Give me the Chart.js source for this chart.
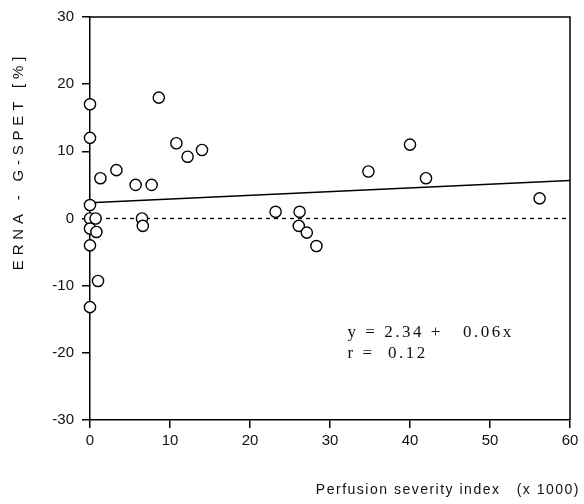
<!DOCTYPE html>
<html>
<head>
<meta charset="utf-8">
<script src="https://cdn.jsdelivr.net/npm/chart.js@4"></script>
<style>
  html, body { margin: 0; padding: 0; background: #fff; }
  #wrap { width: 584px; height: 504px; }
</style>
</head>
<body>
<div id="wrap"><canvas id="chart" width="584" height="504"></canvas></div>
<script>
// perfusion severity index (x 1000)
const severity = [0, 0, 0, 0, 0.7, 0, 0.8, 0, 1.0, 0, 1.3, 3.3, 5.7, 6.5, 6.6, 7.7, 8.6,
  10.8, 12.2, 14.0, 23.2, 26.2, 26.1, 27.1, 28.3, 34.8, 40.0, 42.0, 56.2];
// ERNA - G-SPET difference [%]
const diff = [17, 12, 2, 0, 0, -1.5, -2, -4, -9.3, -13.2, 6, 7.2, 5, 0, -1.1, 5, 18,
  11.2, 9.2, 10.2, 1, 1, -1.1, -2.1, -4.1, 7, 11, 6, 3];
const fitLine = [{ x: 0, y: 2.34 }, { x: 60, y: 5.65 }];
const zeroLine = [{ x: 0, y: 0 }, { x: 60, y: 0 }];
const xTicks = [0, 10, 20, 30, 40, 50, 60];
const yTicks = [-30, -20, -10, 0, 10, 20, 30];
const notes = [
  { x: 32.2, y: -17.0, text: "y = 2.34 +   0.06x" },
  { x: 32.2, y: -20.1, text: "r =  0.12" }
];

const extras = {
  id: "extras",
  afterDraw(chart) {
    const { ctx, chartArea: a, scales } = chart;
    ctx.save();
    ctx.strokeStyle = "#000";
    ctx.lineWidth = 1.5;
    ctx.beginPath();
    ctx.moveTo(a.left, a.top);
    ctx.lineTo(a.right, a.top);
    ctx.lineTo(a.right, a.bottom);
    ctx.stroke();

    ctx.fillStyle = "#111";
    ctx.font = "17px 'Liberation Serif'";
    ctx.letterSpacing = "2.5px";
    ctx.textBaseline = "middle";
    notes.forEach((n) => {
      ctx.fillText(n.text, scales.x.getPixelForValue(n.x), scales.y.getPixelForValue(n.y));
    });

    ctx.font = "14px 'Liberation Sans'";
    ctx.letterSpacing = "1.5px";
    ctx.textAlign = "right";
    ctx.fillText("Perfusion severity index   (x 1000)", 580, 490);

    ctx.font = "15px 'Liberation Sans'";
    ctx.letterSpacing = "4.8px";
    ctx.translate(19, 161);
    ctx.rotate(-Math.PI / 2);
    ctx.textAlign = "center";
    ctx.fillText("ERNA - G-SPET [%]", 0, 0);
    ctx.restore();
  }
};

function axisStyle() {
  return {
    type: "linear",
    grid: { display: true, drawOnChartArea: false, drawTicks: true, tickLength: 8, color: "#000", lineWidth: 1.5 },
    border: { display: true, color: "#000", width: 1.5 },
    ticks: { color: "#111", font: { family: "Liberation Sans", size: 15 }, stepSize: 10 }
  };
}

const xAxis = axisStyle();
xAxis.min = 0;
xAxis.max = 60;
xAxis.ticks.padding = 4;
xAxis.afterBuildTicks = (s) => { s.ticks = xTicks.map((v) => ({ value: v })); };
xAxis.afterFit = (s) => { s.height = 84; };

const yAxis = axisStyle();
yAxis.min = -30;
yAxis.max = 30;
yAxis.ticks.padding = 8;
yAxis.afterBuildTicks = (s) => { s.ticks = yTicks.map((v) => ({ value: v })); };
yAxis.afterFit = (s) => { s.width = 90; };

new Chart(document.getElementById("chart"), {
  type: "scatter",
  data: {
    datasets: [
      {
        label: "patients",
        data: severity.map((x, i) => ({ x, y: diff[i] })),
        backgroundColor: "#fff",
        borderColor: "#000",
        borderWidth: 1.4,
        pointRadius: 5.6,
        clip: false,
        order: 0
      },
      {
        type: "line",
        label: "fit",
        data: fitLine,
        borderColor: "#000",
        borderWidth: 1.5,
        pointRadius: 0,
        order: 1
      },
      {
        type: "line",
        label: "zero",
        data: zeroLine,
        borderColor: "#000",
        borderWidth: 1.3,
        borderDash: [4, 4],
        pointRadius: 0,
        order: 2
      }
    ]
  },
  options: {
    responsive: false,
    animation: false,
    layout: { padding: { top: 13, right: 14, left: 0, bottom: 0 } },
    plugins: { legend: { display: false }, tooltip: { enabled: false } },
    scales: { x: xAxis, y: yAxis }
  },
  plugins: [extras]
});
</script>
</body>
</html>
